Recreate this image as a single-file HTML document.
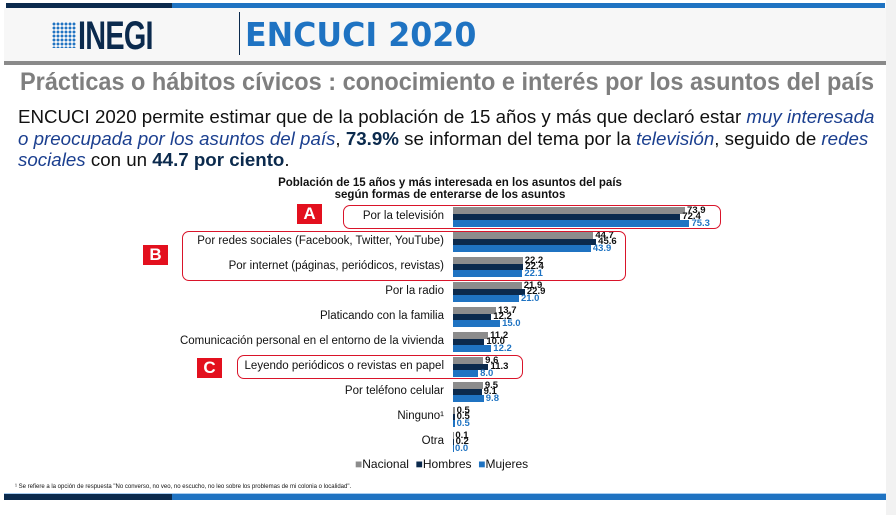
<!DOCTYPE html>
<html><head><meta charset="utf-8"><style>
*{margin:0;padding:0}
body{width:896px;height:515px;background:#fff;position:relative;overflow:hidden;font-family:"Liberation Sans",sans-serif}
.a{position:absolute}
.lab{position:absolute;font-size:11.5px;color:#111;white-space:nowrap}
.v{position:absolute;font-size:9.5px;font-weight:bold;line-height:7px;white-space:nowrap}
.box{position:absolute;border:1.5px solid #d9142a;border-radius:7px}
.rl{position:absolute;width:25px;height:20px;background:#e3101e;color:#fff;font-weight:bold;font-size:17px;text-align:center;line-height:20px}
</style></head><body>
<div class="a" style="left:6px;top:3px;width:166px;height:5px;background:#0b2a4d"></div>
<div class="a" style="left:172px;top:3px;width:713px;height:5px;background:#1f73c2"></div>
<div class="a" style="left:4px;top:8px;width:882px;height:54px;background:#f7f7f7"></div>
<div class="a" style="left:4px;top:61px;width:882px;height:4px;background:#8a8a8a"></div>
<div class="a" style="left:886px;top:0;width:10px;height:515px;background:#f2f2f2"></div>
<div class="a" style="left:52px;top:22px;width:24px;height:26px;background:radial-gradient(circle,#1f73c2 1.3px,transparent 1.6px) 0 0/4px 4px"></div>
<div class="a" style="left:78px;top:14px;font-size:40px;font-weight:bold;color:#0b2a4d;letter-spacing:-1px;transform:scaleX(0.72);transform-origin:left">INEGI</div>
<div class="a" style="left:239px;top:12px;width:1px;height:43px;background:#0b2a4d"></div>
<div class="a" style="left:245px;top:15px;font-size:33px;font-weight:bold;color:#1f73c2;font-family:'DejaVu Sans',sans-serif;transform:scaleX(0.96);transform-origin:left">ENCUCI 2020</div>
<div class="a" style="left:20px;top:68px;font-size:25px;font-weight:bold;color:#7f7f7f;white-space:nowrap;transform:scaleX(0.94);transform-origin:left">Prácticas o hábitos cívicos : conocimiento e interés por los asuntos del país</div>
<div class="a" style="left:18px;top:107px;width:830px;font-size:18px;line-height:21.5px;color:#111;transform:scaleX(1.04);transform-origin:left">ENCUCI 2020 permite estimar que de la población de 15 años y más que declaró estar <i style="color:#1b3f8f">muy interesada o preocupada por los asuntos del país</i>, <b style="color:#0b2a4d">73.9%</b> se informan del tema por la <i style="color:#1b3f8f">televisión</i>, seguido de <i style="color:#1b3f8f">redes sociales</i> con un <b style="color:#0b2a4d">44.7 por ciento</b>.</div>
<div class="a" style="left:180px;top:177px;width:540px;text-align:center;font-size:11.5px;font-weight:bold;line-height:12px;color:#111">Población de 15 años y más interesada en los asuntos del país<br>según formas de enterarse de los asuntos</div>
<div id="ch"></div>
<div class="box" style="left:343px;top:205px;width:376px;height:22px"></div>
<div class="box" style="left:182px;top:231px;width:442px;height:48px"></div>
<div class="box" style="left:237px;top:355px;width:284px;height:22px"></div>
<div class="rl" style="left:297px;top:204px">A</div>
<div class="rl" style="left:143px;top:245px">B</div>
<div class="rl" style="left:197px;top:358px">C</div>
<div class="a" style="left:355px;top:457px;font-size:12px;color:#111;white-space:nowrap"><span style="color:#8c8c8c">■</span>Nacional &nbsp;<span style="color:#0b2a4d">■</span>Hombres &nbsp;<span style="color:#1f73c2">■</span>Mujeres</div>
<div class="a" style="left:15px;top:484px;font-size:6px;color:#111;white-space:nowrap">¹ Se refiere a la opción de respuesta "No converso, no veo, no escucho, no leo sobre los problemas de mi colonia o localidad".</div>
<div class="a" style="left:4px;top:493px;width:882px;height:1px;background:#a9cdf0"></div>
<div class="a" style="left:4px;top:494px;width:168px;height:6px;background:#0b2a4d"></div>
<div class="a" style="left:172px;top:494px;width:714px;height:6px;background:#1f73c2"></div>
<script>
var d=[["Por la televisión",73.9,72.4,75.3],["Por redes sociales (Facebook, Twitter, YouTube)",44.7,45.6,43.9],["Por internet (páginas, periódicos, revistas)",22.2,22.4,22.1],["Por la radio",21.9,22.9,21.0],["Platicando con la familia",13.7,12.2,15.0],["Comunicación personal en el entorno de la vivienda",11.2,10.0,12.2],["Leyendo periódicos o revistas en papel",9.6,11.3,8.0],["Por teléfono celular",9.5,9.1,9.8],["Ninguno¹",0.5,0.5,0.5],["Otra",0.1,0.2,0.0]];
var c=["#8c8c8c","#0b2a4d","#1f73c2"],tc=["#111","#111","#1f73c2"],h="";
d.forEach(function(r,i){var y=207+i*25;
h+='<div class="lab" style="top:'+(y+3)+'px;right:'+(896-444)+'px">'+r[0]+'</div>';
for(var k=0;k<3;k++){var w=r[k+1]*3.14,yy=y+k*6.7;
h+='<div class="a" style="left:453px;top:'+yy+'px;width:'+Math.max(w,1)+'px;height:6.7px;background:'+c[k]+'"></div>';
h+='<div class="v" style="left:'+(455+w)+'px;top:'+(yy-0.5)+'px;color:'+tc[k]+'">'+r[k+1].toFixed(1)+'</div>';}});
document.getElementById("ch").innerHTML=h;
</script>
</body></html>
